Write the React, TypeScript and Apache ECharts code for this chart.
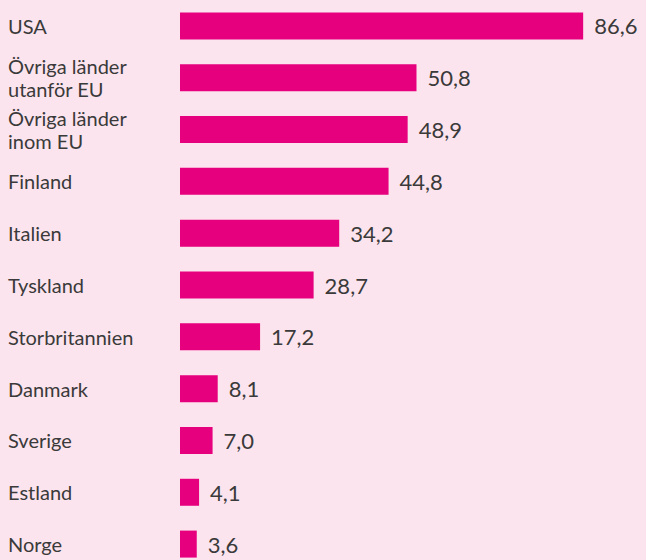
import React, { useEffect, useRef } from "react";
import * as echarts from "echarts";

const categories = [
  "USA",
  "Övriga länder\nutanför EU",
  "Övriga länder\ninom EU",
  "Finland",
  "Italien",
  "Tyskland",
  "Storbritannien",
  "Danmark",
  "Sverige",
  "Estland",
  "Norge",
];
const values = [86.6, 50.8, 48.9, 44.8, 34.2, 28.7, 17.2, 8.1, 7.0, 4.1, 3.6];

const FONT = "Lato";

export default function App() {
  const ref = useRef<HTMLDivElement>(null);
  useEffect(() => {
    const chart = echarts.init(ref.current!, null, { renderer: "svg" });
    chart.setOption({
      animation: false,
      backgroundColor: "#fce4ee",
      grid: { left: 180, right: 47, top: 0, bottom: 0, containLabel: false },
      xAxis: {
        type: "value",
        min: 0,
        max: 90,
        show: false,
      },
      yAxis: {
        type: "category",
        inverse: true,
        data: categories,
        axisLine: { show: false },
        axisTick: { show: false },
        splitLine: { show: false },
        axisLabel: {
          align: "left",
          margin: 172,
          color: "#3a3a3a",
          fontFamily: FONT,
          fontSize: 20,
          lineHeight: 23,
        },
      },
      series: [
        {
          type: "bar",
          data: values,
          barWidth: 27,
          itemStyle: { color: "#e6007e" },
          label: {
            show: true,
            position: "right",
            distance: 11,
            color: "#3a3a3a",
            fontFamily: FONT,
            fontSize: 22,
            formatter: (p: any) => p.value.toFixed(1).replace(".", ","),
          },
        },
      ],
    });
    return () => chart.dispose();
  }, []);
  return (
    <div
      style={{
        position: "absolute",
        left: 0,
        top: 0,
        width: 646,
        height: 560,
        overflow: "hidden",
      }}
    >
      <div ref={ref} style={{ width: 646, height: 570 }} />
    </div>
  );
}
